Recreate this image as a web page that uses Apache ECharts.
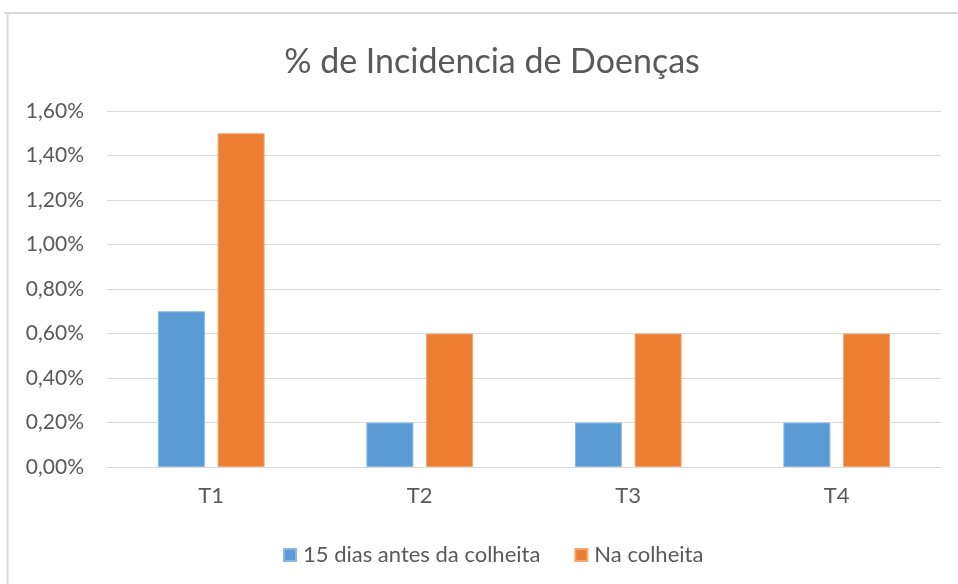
<!DOCTYPE html>
<html>
<head>
<meta charset="utf-8">
<script src="https://cdn.jsdelivr.net/npm/echarts@6/dist/echarts.min.js"></script>
<style>
html,body{margin:0;padding:0;background:#fff;}
#c{width:958px;height:584px;}
</style>
</head>
<body>
<div id="c"></div>
<script>
const categories = ['T1', 'T2', 'T3', 'T4'];
const seriesNames = ['15 dias antes da colheita', 'Na colheita'];
const antes = [0.70, 0.20, 0.20, 0.20];
const naColheita = [1.50, 0.60, 0.60, 0.60];
const title = '% de Incidencia de Doenças';

const chart = echarts.init(document.getElementById('c'), null, {renderer: 'canvas'});
const font = 'Lato, "Noto Sans", sans-serif';
chart.setOption({
  animation: false,
  backgroundColor: '#fff',
  textStyle: {fontFamily: font},
  graphic: [
    {type: 'line', shape: {x1: 4, y1: 13, x2: 958, y2: 13}, style: {stroke: '#d9d9d9', lineWidth: 2}},
    {type: 'line', shape: {x1: 7.5, y1: 12, x2: 7.5, y2: 584}, style: {stroke: '#d9d9d9', lineWidth: 2}}
  ],
  title: {
    text: title,
    left: 487, top: 40, textAlign: 'center',
    textStyle: {fontFamily: font, fontSize: 34, fontWeight: 'normal', color: '#595959'}
  },
  legend: {
    top: 539, left: 278,
    itemWidth: 12, itemHeight: 12, itemGap: 34,
    icon: 'rect',
    textStyle: {fontFamily: font, fontSize: 22, color: '#595959', padding: [0, 0, 0, 2]},
    data: seriesNames
  },
  grid: {left: 107, right: 17, top: 111, bottom: 117, containLabel: false},
  xAxis: {
    type: 'category', data: categories,
    axisLine: {lineStyle: {color: '#d9d9d9'}},
    axisTick: {show: false},
    axisLabel: {fontFamily: font, fontSize: 22, color: '#595959', margin: 18}
  },
  yAxis: {
    type: 'value', min: 0, max: 1.6, interval: 0.2,
    axisLine: {show: false}, axisTick: {show: false},
    splitLine: {lineStyle: {color: '#d9d9d9'}},
    axisLabel: {fontFamily: font, fontSize: 21, color: '#595959', margin: 23,
      formatter: v => v.toFixed(2).replace('.', ',') + '%'}
  },
  series: [
    {name: seriesNames[0], type: 'bar', data: antes, barWidth: 47, barGap: '27%',
     itemStyle: {color: '#5B9BD5', borderColor: '#8ab8e3', borderWidth: 1}},
    {name: seriesNames[1], type: 'bar', data: naColheita, barWidth: 47,
     itemStyle: {color: '#ED7D31', borderColor: '#f3a672', borderWidth: 1}}
  ]
});
</script>
</body>
</html>
